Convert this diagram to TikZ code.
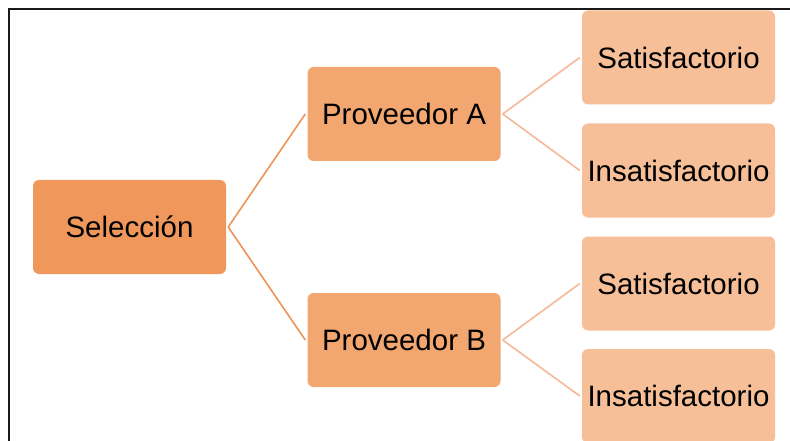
\documentclass[tikz,border=0pt]{standalone}
\usepackage{fontspec}
\setmainfont{Liberation Sans}
\definecolor{rootfill}{HTML}{F0985C}
\definecolor{midfill}{HTML}{F2A670}
\definecolor{leaffill}{HTML}{F6BF98}
\definecolor{rootline}{HTML}{EF9458}
\definecolor{midline}{HTML}{F5B898}
\definecolor{framecol}{HTML}{1A1A1A}
\begin{document}
\begin{tikzpicture}[x=1pt,y=-1pt,
  box/.style={rounded corners=6pt, minimum width=193pt, minimum height=94pt,
    inner sep=0pt, font=\fontsize{29.5}{34}\selectfont, text=black},
  rootbox/.style={box, fill=rootfill},
  midbox/.style={box, fill=midfill},
  leafbox/.style={box, fill=leaffill},
  rootlink/.style={draw=rootline, line width=1.6pt},
  midlink/.style={draw=midline, line width=1.6pt}]
\useasboundingbox (0,0) rectangle (790,441);
\fill[white] (0,0) rectangle (790,441);
% outer frame, only its top and left sides fall inside the page
\draw[framecol, line width=2pt] (8.5,441) -- (8.5,9.5) -- (790,9.5);

\node[rootbox] (sel) at (129.5,227) {Selección};
\node[midbox] (pa) at (404,114) {Proveedor A};
\node[midbox] (pb) at (404,340) {Proveedor B};
\node[leafbox] (sa) at (678.5,57.5) {Satisfactorio};
\node[leafbox] (ia) at (678.5,170.5) {Insatisfactorio};
\node[leafbox] (sb) at (678.5,283.5) {Satisfactorio};
\node[leafbox] (ib) at (678.5,396) {Insatisfactorio};

\draw[rootlink] ([xshift=2pt]sel.east) -- ([xshift=-2pt]pa.west);
\draw[rootlink] ([xshift=2pt]sel.east) -- ([xshift=-2pt]pb.west);
\draw[midlink] ([xshift=2pt]pa.east) -- ([xshift=-2pt]sa.west);
\draw[midlink] ([xshift=2pt]pa.east) -- ([xshift=-2pt]ia.west);
\draw[midlink] ([xshift=2pt]pb.east) -- ([xshift=-2pt]sb.west);
\draw[midlink] ([xshift=2pt]pb.east) -- ([xshift=-2pt]ib.west);
\end{tikzpicture}
\end{document}
